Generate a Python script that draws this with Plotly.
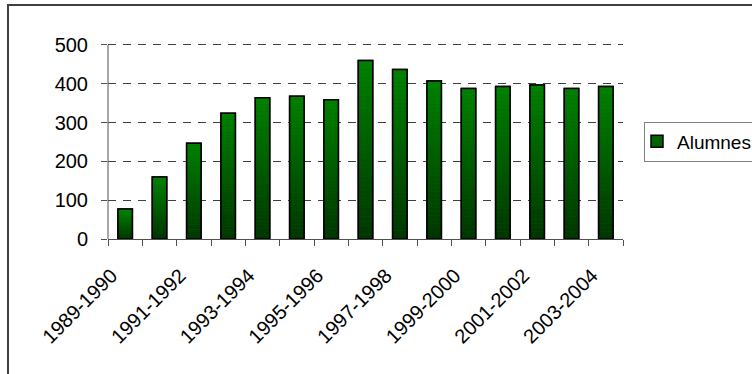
import plotly.graph_objects as go

# School years and enrolled students (Alumnes)
years = ["1989-1990", "1990-1991", "1991-1992", "1992-1993", "1993-1994",
         "1994-1995", "1995-1996", "1996-1997", "1997-1998", "1998-1999",
         "1999-2000", "2000-2001", "2001-2002", "2002-2003", "2003-2004"]
alumnes = [77, 160, 247, 324, 364, 368, 359, 460, 437, 407, 388, 393, 397, 388, 393]
series_name = "Alumnes"

W, H = 752, 374
L, R, T, B = 108, 623, 43, 239          # plot-area edges in pixels
pw, ph = R - L, B - T
YMAX = 505                              # small headroom so the 500 gridline shows

xs = list(range(len(years)))
bar_w = 0.42
label_shift = -0.4                      # rotated labels sit a little left of the bar centre
FONT = "Liberation Sans, Arial, sans-serif"

fig = go.Figure()

# base bar: carries the legend entry
fig.add_trace(go.Bar(
    x=xs, y=alumnes, width=bar_w, name=series_name,
    marker=dict(color="#006400", line=dict(color="black", width=1.5)),
    showlegend=True,
))

# vertical gradient: dark green at the bottom to bright green at the top
N = 40
top = (0, 130, 0)
bot = (0, 52, 0)
for k in range(N):
    t = (k + 0.5) / N
    c = tuple(round(bot[i] + (top[i] - bot[i]) * t) for i in range(3))
    fig.add_trace(go.Bar(
        x=xs, y=[v / N for v in alumnes], base=[v * k / N for v in alumnes],
        width=bar_w, marker=dict(color="rgb(%d,%d,%d)" % c, line=dict(width=0)),
        showlegend=False, hoverinfo="skip",
    ))

# black outline drawn over the gradient
fig.add_trace(go.Bar(
    x=xs, y=alumnes, width=bar_w,
    marker=dict(color="rgba(0,0,0,0)", line=dict(color="black", width=1.5)),
    showlegend=False, hoverinfo="skip",
))

def px_x(p):
    return (p - L) / pw

def px_y(p):
    return (B - p) / ph

fig.update_layout(
    width=W, height=H,
    margin=dict(l=L, r=W - R, t=T, b=H - B, pad=0, autoexpand=False),
    barmode="overlay",
    paper_bgcolor="white", plot_bgcolor="white",
    font=dict(family=FONT, size=20, color="black"),
    legend=dict(
        x=px_x(644), xanchor="left", y=px_y(141.5), yanchor="middle",
        bgcolor="white", bordercolor="#808080", borderwidth=1,
        font=dict(family=FONT, size=19, color="black"),
        itemwidth=30, indentation=-8,
    ),
    xaxis=dict(
        range=[-0.5, len(years) - 0.5],
        tickvals=[x + label_shift for x in xs[::2]], ticktext=years[::2],
        tickangle=-45, ticks="", showgrid=False, zeroline=False,
        showline=True, linecolor="#505050", linewidth=1,
        ticklabelstandoff=16,
        tickfont=dict(family=FONT, size=20, color="black"),
        minor=dict(ticks="outside", ticklen=6, tickcolor="#505050",
                   tick0=-0.5, dtick=1, showgrid=False),
        fixedrange=True,
    ),
    yaxis=dict(
        range=[0, YMAX], tickvals=[0, 100, 200, 300, 400, 500],
        showgrid=True, gridcolor="#404040", gridwidth=1, griddash="8px,7px",
        zeroline=False, showline=False,
        ticks="outside", ticklen=6, tickcolor="#505050",
        ticklabelstandoff=9,
        tickfont=dict(family=FONT, size=20, color="black"),
        fixedrange=True,
    ),
    shapes=[
        # value axis line, from 0 up to 500
        dict(type="line", xref="paper", yref="y", x0=0, x1=0, y0=0, y1=500,
             line=dict(color="#505050", width=1)),
        # chart frame
        dict(type="rect", xref="paper", yref="paper",
             x0=px_x(8), x1=px_x(770), y0=px_y(390), y1=px_y(5),
             line=dict(color="#404040", width=2), fillcolor="rgba(0,0,0,0)",
             layer="above"),
    ],
)

fig.write_html("out.html")
